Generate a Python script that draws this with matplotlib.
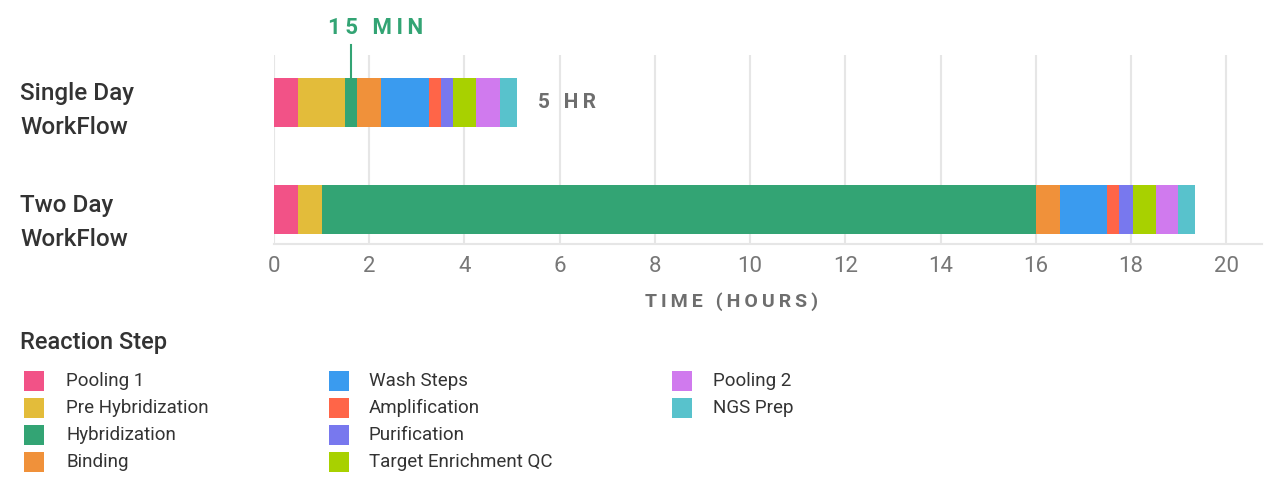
import matplotlib.pyplot as plt
from matplotlib.patches import Rectangle
from matplotlib.transforms import blended_transform_factory

plt.rcParams['font.family'] = ['Roboto', 'DejaVu Sans']

# data (hours per reaction step)
steps = ['Pooling 1', 'Pre Hybridization', 'Hybridization', 'Binding',
         'Wash Steps', 'Amplification', 'Purification', 'Target Enrichment QC',
         'Pooling 2', 'NGS Prep']
colors = ['#F25287', '#E3BC3A', '#33A474', '#F0913A', '#3A9BEF',
          '#FF6548', '#7878EE', '#A8D100', '#D07AEE', '#58C2CC']
workflows = ['Single Day\nWorkFlow', 'Two Day\nWorkFlow']
single_day = [0.5, 1.0, 0.25, 0.5, 1.0, 0.25, 0.25, 0.5, 0.5, 0.35]
two_day = [0.5, 0.5, 15.0, 0.5, 1.0, 0.25, 0.3, 0.47, 0.47, 0.35]
xticks = [0, 2, 4, 6, 8, 10, 12, 14, 16, 18, 20]


def spaced(s, sp='\u2009'):
    # a little letter spacing, like the original
    return sp.join(s)


W, H = 1280, 490
fig = plt.figure(figsize=(W / 100, H / 100), dpi=100)
ax = fig.add_axes([274 / W, 1 - 244 / H, 988 / W, 189 / H])

ypos = [1, 0]
for y, durations in zip(ypos, [single_day, two_day]):
    left = 0
    for d, c in zip(durations, colors):
        ax.barh(y, d, left=left, height=0.46, color=c, edgecolor='none', zorder=3)
        left += d

ax.set_xlim(0, 20.75)
ax.set_ylim(-0.322, 1.444)
ax.set_xticks(xticks)
ax.set_xticklabels([str(t) for t in xticks], fontsize=16, color='#777777')
ax.tick_params(axis='x', length=0, pad=9)
ax.set_yticks([])
ax.grid(axis='x', color='#E6E6E6', linewidth=1.5, zorder=0)
for s in ['top', 'right', 'left']:
    ax.spines[s].set_visible(False)
ax.spines['bottom'].set_color('#E6E6E6')
ax.spines['bottom'].set_linewidth(1.5)
fig.text(732 / W, 1 - 302 / H, spaced('TIME (HOURS)'), fontsize=14,
         color='#6E6E6E', fontweight='bold', ha='center', va='center')

# category labels
trans = blended_transform_factory(fig.transFigure, ax.transData)
for y, lab, dy in zip(ypos, workflows, [-0.075, -0.12]):
    ax.text(20 / W, y + dy, lab, transform=trans, ha='left', va='center',
            fontsize=17.5, fontweight='medium', color='#333333',
            linespacing=1.6)

# annotations
hyb_mid = sum(single_day[:2]) + single_day[2] / 2
ax.plot([hyb_mid, hyb_mid], [1.23, 1.54], color='#33A474', lw=1.5,
        clip_on=False, zorder=4)
ax.text(hyb_mid + 0.5, 1.70, spaced('15 MIN'), fontsize=16,
        fontweight='bold', color='#33A474', ha='center', va='center')
ax.text(sum(single_day) + 0.45, 1, spaced('5 HR'), fontsize=15,
        fontweight='bold', color='#6E6E6E', ha='left', va='center')

# legend
fig.text(20 / W, 1 - 342 / H, 'Reaction Step', fontsize=17, fontweight='medium',
         color='#333333', ha='left', va='center')
col_x = [24, 329, 672]
text_x = [66, 369, 713]
row_y = [381, 408, 435, 462]
for i, (name, c) in enumerate(zip(steps, colors)):
    col, row = divmod(i, 4)
    sq = 20
    fig.add_artist(Rectangle((col_x[col] / W, 1 - (row_y[row] + sq / 2) / H),
                             sq / W, sq / H, transform=fig.transFigure,
                             facecolor=c, edgecolor='none'))
    fig.text(text_x[col] / W, 1 - row_y[row] / H, name, fontsize=13.5,
             color='#333333', ha='left', va='center')

fig.savefig('out.png', dpi=100)
